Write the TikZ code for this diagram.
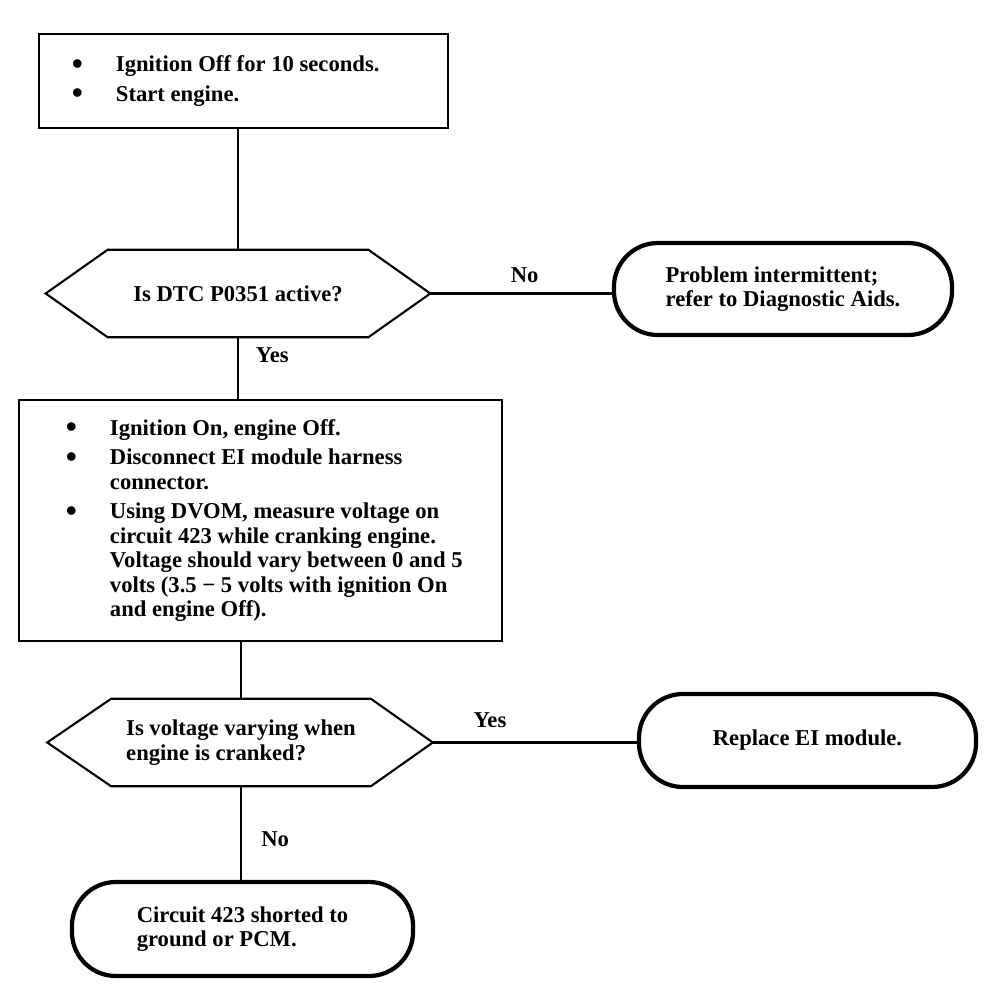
\documentclass[tikz,border=0pt]{standalone}
\usepackage{fontspec}
\usepackage{graphicx}
\setmainfont{Liberation Serif}
\usetikzlibrary{positioning,calc}

\newcommand{\chartfont}{\fontsize{16.1}{17.4}\selectfont\bfseries}
\newcommand{\bigdot}{\raisebox{-0.25ex}{\scalebox{1.4}{\textbullet}}}
\newcommand{\bitem}[1]{\hangindent=1.1cm\hangafter=1\noindent\makebox[1.1cm][l]{\bigdot}#1\par}
\newcommand{\itemgap}{\vspace{0.13cm}}

\begin{document}
\begin{tikzpicture}[
    x=0.025cm, y=-0.025cm,
    stepbox/.style={draw, line width=1.5pt, font=\chartfont},
    decision/.style={minimum width=6.5cm, minimum height=2.175cm, inner sep=0pt,
                     align=left, font=\chartfont},
    hexline/.style={line width=1.5pt, line join=miter},
    terminal/.style={draw, line width=3pt, rounded corners=1.1cm, align=left,
                     font=\chartfont},
    link/.style={line width=1.6pt},
    answer/.style={font=\chartfont, inner sep=2pt},
  ]
    \useasboundingbox (0,0) rectangle (1008,994);

    % first step
    \node[stepbox, minimum width=10.225cm, minimum height=2.35cm, inner xsep=0.825cm]
      (box1) at (243.5,81)
      {\begin{minipage}{8.575cm}\raggedright
       \bitem{Ignition Off for 10 seconds.}\itemgap
       \bitem{Start engine.}
       \end{minipage}};

    % DTC check
    \node[decision] (q1) at (238,293.5) {Is DTC P0351 active?};
    \coordinate (q1l) at ($(q1.west)+(-62,0)$);
    \coordinate (q1r) at ($(q1.east)+(62,0)$);
    \draw[hexline] (q1.north west) -- (q1.north east) -- (q1r) -- (q1.south east)
      -- (q1.south west) -- (q1l) -- cycle;

    \node[terminal, minimum width=8.45cm, minimum height=2.3cm] (t1) at (783,289)
      {Problem intermittent;\\refer to Diagnostic Aids.};

    % voltage test
    \node[stepbox, minimum width=12.075cm, minimum height=6.025cm, inner xsep=0.6cm]
      (box2) at (260.5,520.5)
      {\begin{minipage}{10.875cm}\raggedright\leftskip=0.575cm
       \bitem{Ignition On, engine Off.}\itemgap
       \bitem{Disconnect EI module harness\newline connector.}\itemgap
       \bitem{Using DVOM, measure voltage on\newline circuit 423 while cranking engine.\newline
         Voltage should vary between 0 and 5\newline volts (3.5 − 5 volts with ignition On\newline
         and engine Off).}
       \end{minipage}};

    % voltage varying?
    \node[decision, minimum width=6.475cm] (q2) at (241,742.5)
      {Is voltage varying when\\engine is cranked?};
    \coordinate (q2l) at ($(q2.west)+(-64,0)$);
    \coordinate (q2r) at ($(q2.east)+(62,0)$);
    \draw[hexline] (q2.north west) -- (q2.north east) -- (q2r) -- (q2.south east)
      -- (q2.south west) -- (q2l) -- cycle;

    \node[terminal, minimum width=8.425cm, minimum height=2.325cm] (t2) at (807.5,740.5)
      {Replace EI module.};
    \node[terminal, minimum width=8.525cm, minimum height=2.35cm] (t3) at (242.5,929)
      {Circuit 423 shorted to\\ground or PCM.};

    % connectors
    \draw[link] (box1.south -| q1.north) -- (q1.north);
    \draw[link] (q1r) -- node[answer, pos=0.52, above=0.16cm]{No} (q1r -| t1.west);
    \draw[link] (q1.south) -- node[answer, pos=0.29, right=0.35cm]{Yes} (q1.south |- box2.north);
    \draw[link] (box2.south -| q2.north) -- (q2.north);
    \draw[link] (q2r) -- node[answer, pos=0.28, above=0.26cm]{Yes} (q2r -| t2.west);
    \draw[link] (q2.south) -- node[answer, pos=0.57, right=0.41cm]{No} (q2.south |- t3.north);
  \end{tikzpicture}
\end{document}
